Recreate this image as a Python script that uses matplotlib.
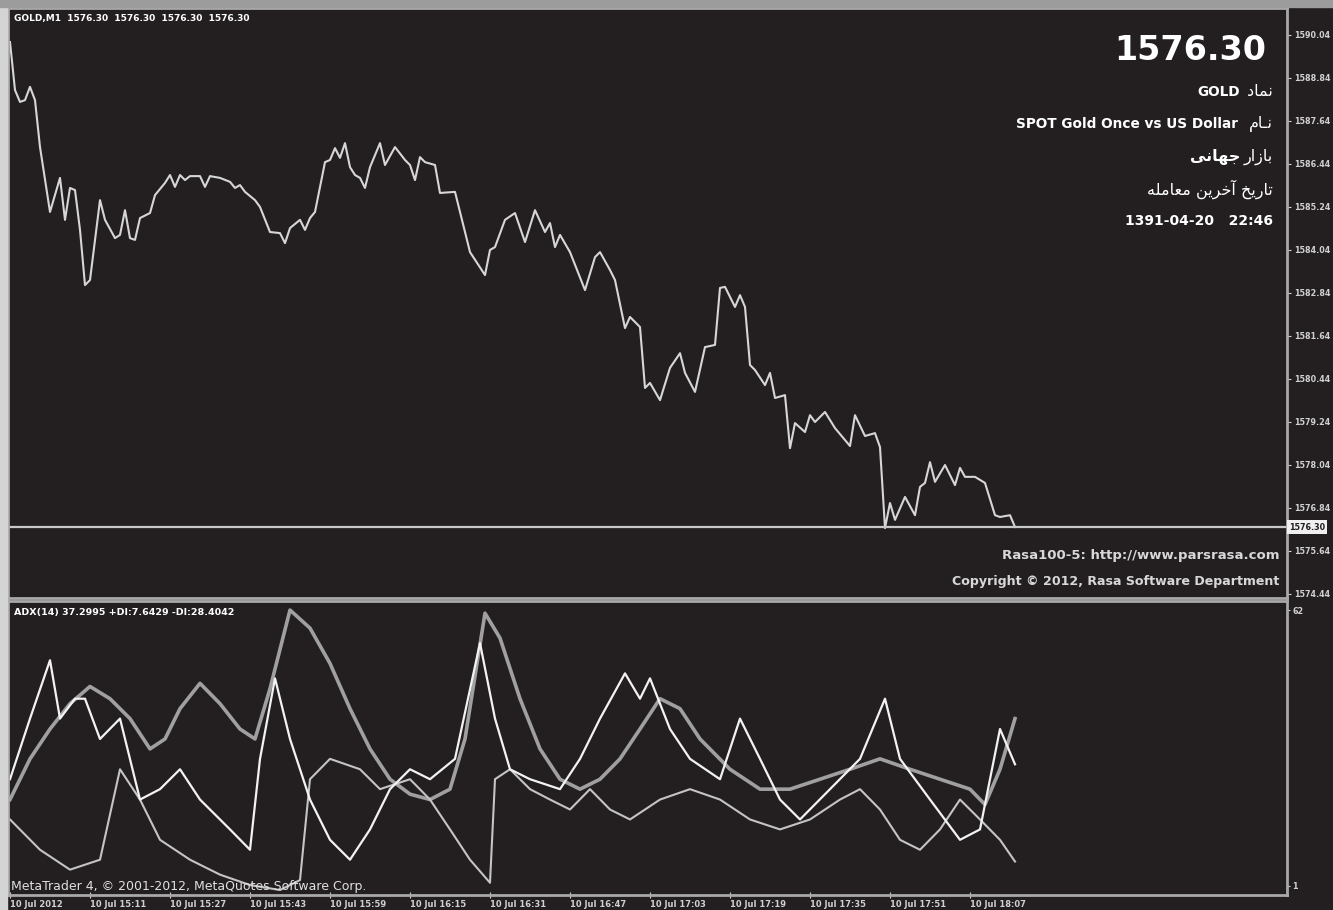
import numpy as np
import matplotlib.pyplot as plt
from matplotlib.patches import Rectangle

W, H = 1333, 910
BG = '#231f20'
FRAME = '#a9a9a9'

# M1 bars, bar 0 = 10 Jul 14:55
bars = [0, 1, 2, 3, 4, 5, 6, 8, 10, 11, 12, 13, 14, 15, 16, 18, 19, 21, 22, 23,
        24, 25, 26, 28, 29, 31, 32, 33, 34, 35, 36, 38, 39, 40, 42, 44, 45, 46, 47, 49,
        50, 52, 54, 55, 56, 58, 59, 60, 61, 63, 64, 65, 66, 67, 68, 69, 70, 71, 72, 74,
        75, 77, 79, 80, 81, 82, 83, 85, 86, 89, 92, 95, 96, 97, 99, 101, 103, 105, 107, 108,
        109, 110, 112, 115, 117, 118, 120, 121, 123, 124, 126, 127, 128, 130, 132, 134, 135, 137, 139, 141,
        142, 143, 145, 146, 147, 148, 149, 151, 152, 153, 155, 156, 157, 159, 160, 161, 163, 165, 168, 169,
        171, 173, 174, 175, 176, 177, 179, 181, 182, 183, 184, 185, 187, 189, 190, 191, 193, 195, 197, 198,
        200, 201]
close = [1589.83, 1588.49, 1588.16, 1588.21, 1588.58, 1588.21, 1586.90, 1585.09, 1586.04, 1584.87,
         1585.76, 1585.70, 1584.59, 1583.05, 1583.19, 1585.42, 1584.87, 1584.36, 1584.45, 1585.14,
         1584.36, 1584.31, 1584.92, 1585.06, 1585.56, 1585.90, 1586.12, 1585.79, 1586.12, 1585.98,
         1586.09, 1586.09, 1585.79, 1586.09, 1586.04, 1585.93, 1585.76, 1585.84, 1585.65, 1585.42,
         1585.23, 1584.53, 1584.50, 1584.22, 1584.64, 1584.87, 1584.59, 1584.92, 1585.09, 1586.48,
         1586.54, 1586.87, 1586.60, 1587.01, 1586.34, 1586.12, 1586.04, 1585.76, 1586.34, 1587.01,
         1586.40, 1586.90, 1586.54, 1586.40, 1585.98, 1586.62, 1586.48, 1586.40, 1585.62, 1585.65,
         1583.97, 1583.33, 1584.03, 1584.11, 1584.87, 1585.06, 1584.25, 1585.14, 1584.53, 1584.78,
         1584.11, 1584.45, 1583.97, 1582.91, 1583.83, 1583.97, 1583.47, 1583.19, 1581.85, 1582.16,
         1581.88, 1580.18, 1580.32, 1579.84, 1580.74, 1581.15, 1580.60, 1580.07, 1581.32, 1581.38,
         1582.97, 1583.00, 1582.44, 1582.77, 1582.44, 1580.82, 1580.68, 1580.26, 1580.60, 1579.90,
         1579.98, 1578.50, 1579.20, 1578.95, 1579.42, 1579.23, 1579.51, 1579.06, 1578.56, 1579.42,
         1578.84, 1578.92, 1578.53, 1576.27, 1576.97, 1576.50, 1577.14, 1576.63, 1577.42, 1577.53,
         1578.11, 1577.56, 1578.03, 1577.47, 1577.95, 1577.70, 1577.70, 1577.53, 1576.63, 1576.58,
         1576.63, 1576.30]

price_ticks = [1590.04, 1588.84, 1587.64, 1586.44, 1585.24, 1584.04, 1582.84,
               1581.64, 1580.44, 1579.24, 1578.04, 1576.84, 1575.64, 1574.44]
last_price = 1576.30

# ADX(14), +DI, -DI
adx_bars = [0, 4, 8, 12, 16, 20, 24, 28, 31, 34, 38, 42, 46, 49, 52, 56, 60, 64, 68, 72,
            76, 80, 84, 88, 91, 95, 98, 102, 106, 110, 114, 118, 122, 126, 130, 134, 138, 144, 150, 156,
            162, 168, 174, 180, 186, 192, 195, 198, 201]
adx = [20.1, 29.1, 35.7, 41.3, 45.1, 42.4, 38.0, 31.3, 33.5, 40.2, 45.8, 41.3, 35.7, 33.5, 44.6,
       62.0, 58.0, 50.2, 40.2, 31.3, 24.6, 21.3, 20.1, 22.4, 33.5, 61.3, 55.8, 42.4, 31.3, 24.6,
       22.4, 24.6, 29.1, 35.7, 42.4, 40.2, 33.5, 26.8, 22.4, 22.4, 24.6, 26.8, 29.1, 26.8, 24.6,
       22.4, 19.0, 26.8, 38.0]
pdi_bars = [0, 4, 8, 10, 13, 15, 18, 22, 26, 30, 34, 38, 44, 48, 50, 53, 56, 60, 64, 68,
            72, 76, 80, 84, 89, 94, 97, 100, 104, 110, 114, 118, 123, 126, 128, 132, 136, 142, 146, 150,
            154, 158, 164, 170, 175, 178, 184, 190, 194, 198, 201]
pdi = [24.6, 38.0, 50.9, 38.0, 42.4, 42.4, 33.5, 38.0, 20.1, 22.4, 26.8, 20.1, 13.5, 9.0, 29.1,
       46.9, 33.5, 20.1, 11.2, 6.8, 13.5, 22.4, 26.8, 24.6, 29.1, 54.7, 38.0, 26.8, 24.6, 22.4,
       29.1, 38.0, 48.0, 42.4, 46.9, 35.7, 29.1, 24.6, 38.0, 29.1, 20.1, 15.7, 22.4, 29.1, 42.4,
       29.1, 20.1, 11.2, 13.5, 35.7, 27.9]
mdi_bars = [0, 6, 12, 18, 22, 26, 30, 36, 42, 48, 54, 58, 60, 64, 70, 74, 80, 84, 88, 92,
            96, 97, 100, 104, 108, 112, 116, 120, 124, 130, 136, 142, 148, 154, 160, 166, 170, 174, 178, 182,
            186, 190, 194, 198, 201]
mdi = [15.7, 9.0, 4.6, 6.8, 26.8, 20.1, 11.2, 6.8, 3.5, 1.2, 0.1, 2.3, 24.6, 29.1, 26.8,
       22.4, 24.6, 20.1, 13.5, 6.8, 1.7, 24.6, 26.8, 22.4, 20.1, 17.9, 22.4, 17.9, 15.7, 20.1,
       22.4, 20.1, 15.7, 13.5, 15.7, 20.1, 22.4, 17.9, 11.2, 9.0, 13.5, 20.1, 15.7, 11.2, 6.4]

time_ticks = [0, 16, 32, 48, 64, 80, 96, 112, 128, 144, 160, 176, 192]
time_labels = ['10 Jul 2012', '10 Jul 15:11', '10 Jul 15:27', '10 Jul 15:43', '10 Jul 15:59',
               '10 Jul 16:15', '10 Jul 16:31', '10 Jul 16:47', '10 Jul 17:03', '10 Jul 17:19',
               '10 Jul 17:35', '10 Jul 17:51', '10 Jul 18:07']

# minimal arabic shaping (isolated, final, initial, medial)
FORMS = {
    'ا': ('\uFE8D', '\uFE8E', None, None),
    'آ': ('\uFE81', '\uFE82', None, None),
    'ب': ('\uFE8F', '\uFE90', '\uFE91', '\uFE92'),
    'ت': ('\uFE95', '\uFE96', '\uFE97', '\uFE98'),
    'ج': ('\uFE9D', '\uFE9E', '\uFE9F', '\uFEA0'),
    'خ': ('\uFEA5', '\uFEA6', '\uFEA7', '\uFEA8'),
    'د': ('\uFEA9', '\uFEAA', None, None),
    'ر': ('\uFEAD', '\uFEAE', None, None),
    'ز': ('\uFEAF', '\uFEB0', None, None),
    'ع': ('\uFEC9', '\uFECA', '\uFECB', '\uFECC'),
    'ل': ('\uFEDD', '\uFEDE', '\uFEDF', '\uFEE0'),
    'م': ('\uFEE1', '\uFEE2', '\uFEE3', '\uFEE4'),
    'ن': ('\uFEE5', '\uFEE6', '\uFEE7', '\uFEE8'),
    'ه': ('\uFEE9', '\uFEEA', '\uFEEB', '\uFEEC'),
    'ی': ('\uFEEF', '\uFEF0', '\uFEF3', '\uFEF4'),
    'ـ': ('\u0640', '\u0640', '\u0640', '\u0640'),
}


def fa(s):
    out = []
    for i, c in enumerate(s):
        if c not in FORMS:
            out.append(c)
            continue
        f = FORMS[c]
        prev = s[i - 1] if i > 0 else ''
        nxt = s[i + 1] if i + 1 < len(s) else ''
        pj = prev in FORMS and FORMS[prev][2] is not None
        nj = nxt in FORMS and f[2] is not None
        if pj and nj:
            out.append(f[3])
        elif pj:
            out.append(f[1])
        elif nj:
            out.append(f[2])
        else:
            out.append(f[0])
    return ''.join(reversed(out))


def fx(x):
    return x / W


def fy(y):
    return 1 - y / H


plt.rcParams['font.family'] = ['DejaVu Sans']
fig = plt.figure(figsize=(W / 100, H / 100), dpi=100, facecolor=BG)

# screenshot frame edges
fig.patches.append(Rectangle((0, 0), fx(7), 1, transform=fig.transFigure, color='#d4d4d4', zorder=0))
fig.patches.append(Rectangle((0, fy(7)), 1, 7 / H, transform=fig.transFigure, color='#9c9c9c', zorder=0))

ax = fig.add_axes([fx(8), fy(598), (1287 - 8) / W, (598 - 8) / H], facecolor=BG)
ax2 = fig.add_axes([fx(8), fy(895), (1287 - 8) / W, (895 - 601) / H], facecolor=BG)

for a in (ax, ax2):
    a.set_xlim(-0.4, 255.4)
    for s in a.spines.values():
        s.set_color(FRAME)
        s.set_linewidth(2)

# price pane
ax.plot(bars, close, color='#d6d6d6', lw=1.5)
ax.axhline(last_price, color='#c8c8c8', lw=1.6)
ax.set_ylim(1574.32, 1590.78)
ax.yaxis.tick_right()
ax.set_yticks(price_ticks)
ax.set_yticklabels([f'{v:.2f}' for v in price_ticks])
ax.tick_params(axis='y', colors='#d0d0d0', labelsize=5.8, length=3, pad=2)
for lab in ax.get_yticklabels():
    lab.set_fontweight('bold')
ax.set_xticks([])
ax.text(1.0015, last_price, f'{last_price:.2f}', transform=ax.get_yaxis_transform(),
        fontsize=5.8, fontweight='bold', color='#231f20', va='center', ha='left',
        bbox=dict(boxstyle='square,pad=0.3', fc='#f0f0f0', ec='none'))

ax.text(0.005, 0.982, 'GOLD,M1  1576.30  1576.30  1576.30  1576.30', transform=ax.transAxes,
        fontsize=6.5, color='white', fontweight='bold', va='center', ha='left')

fig.text(fx(1266), fy(50), '1576.30', fontsize=24, fontweight='bold', color='white',
         ha='right', va='center')
fig.text(fx(1273), fy(92), fa('نماد'), fontsize=11.5, color='white', ha='right', va='center')
fig.text(fx(1240), fy(92), 'GOLD', fontsize=9.8, fontweight='bold', color='white',
         ha='right', va='center')
fig.text(fx(1273), fy(124), fa('نـام'), fontsize=11.5, color='white', ha='right', va='center')
fig.text(fx(1238), fy(124), 'SPOT Gold Once vs US Dollar', fontsize=9.8, fontweight='bold',
         color='white', ha='right', va='center')
fig.text(fx(1273), fy(157), fa('بازار'), fontsize=11.5, color='white', ha='right', va='center')
fig.text(fx(1240), fy(157), fa('جهانی'), fontsize=11.5, fontweight='bold', color='white',
         ha='right', va='center')
fig.text(fx(1273), fy(189), fa('تاریخ آخرین معامله'), fontsize=11.5, color='white',
         ha='right', va='center')
fig.text(fx(1273), fy(221), '1391-04-20   22:46', fontsize=10, fontweight='bold',
         color='white', ha='right', va='center')
fig.text(fx(1279), fy(556), 'Rasa100-5: http://www.parsrasa.com', fontsize=9.5,
         fontweight='bold', color='#d8d8d8', ha='right', va='center')
fig.text(fx(1279), fy(582), 'Copyright © 2012, Rasa Software Department', fontsize=9.1,
         fontweight='bold', color='#d8d8d8', ha='right', va='center')

# ADX pane
ax2.plot(adx_bars, adx, color='#a0a0a0', lw=2.6)
ax2.plot(mdi_bars, mdi, color='#c4c4c4', lw=1.5)
ax2.plot(pdi_bars, pdi, color='#f2f2f2', lw=1.6)
ax2.set_ylim(-1, 64)
ax2.yaxis.tick_right()
ax2.set_yticks([62, 1])
ax2.set_yticklabels(['62', '1'])
ax2.tick_params(axis='y', colors='#d0d0d0', labelsize=5.8, length=2, pad=2)
ax2.set_xticks(time_ticks)
ax2.set_xticklabels(time_labels)
ax2.tick_params(axis='x', colors='#d0d0d0', labelsize=6, length=4, pad=1.5, direction='inout')
for lab in ax2.get_xticklabels() + ax2.get_yticklabels():
    lab.set_fontweight('bold')
for lab in ax2.get_xticklabels():
    lab.set_ha('left')
ax2.text(0.005, 0.96, 'ADX(14) 37.2995 +DI:7.6429 -DI:28.4042', transform=ax2.transAxes,
         fontsize=6.8, fontweight='bold', color='white', va='center', ha='left')
ax2.text(0.002, 0.03, 'MetaTrader 4, © 2001-2012, MetaQuotes Software Corp.',
         transform=ax2.transAxes, fontsize=9, color='#e0e0e0', va='center', ha='left')

fig.savefig('out.png', dpi=100, facecolor=BG)
